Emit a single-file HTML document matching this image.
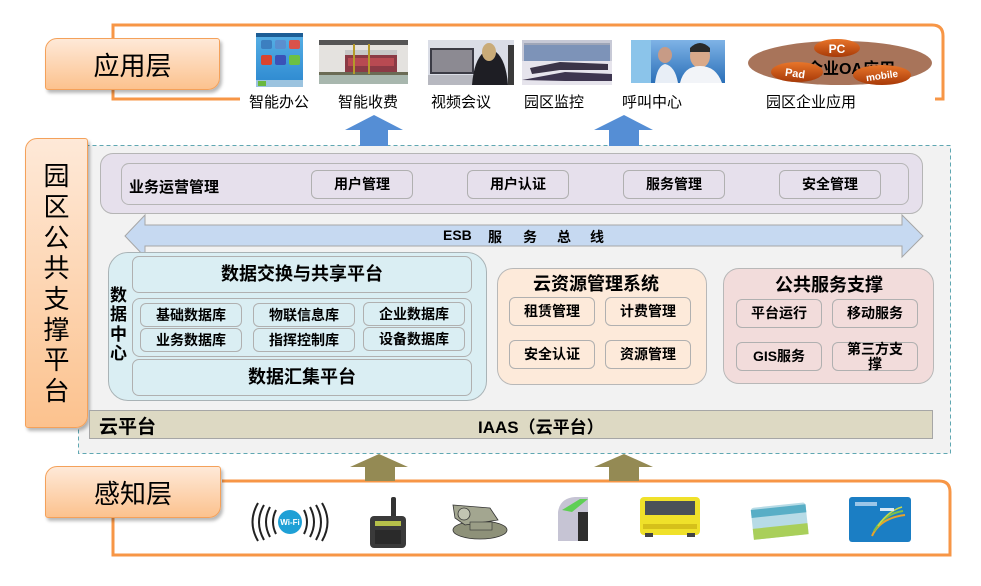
<!DOCTYPE html>
<html><head><meta charset="utf-8">
<style>
body{margin:0;width:981px;height:586px;background:#fff;position:relative;overflow:hidden;font-family:"Liberation Sans","Noto Sans CJK SC",sans-serif;color:#000;}
.a{position:absolute;box-sizing:border-box;}
.lbl{background:linear-gradient(#fee9d8,#fcc28e);border:1.5px solid #f4a15a;border-radius:12px 3px 12px 3px;box-shadow:2px 3px 3px rgba(0,0,0,.28);display:flex;align-items:center;justify-content:center;}
.btn{border:1px solid #b0b0b0;border-radius:6px;display:flex;align-items:center;justify-content:center;font-weight:bold;font-size:14px;line-height:15px;text-align:center;}
.t{position:absolute;white-space:nowrap;}
svg{position:absolute;left:0;top:0;}
</style></head><body>

<svg width="981" height="586" viewBox="0 0 981 586">
  <!-- main dashed box -->
  <rect x="78.5" y="145.5" width="872" height="308" fill="#f2f2f2" stroke="#5fa7b2" stroke-width="1" stroke-dasharray="4,3"/>
  <!-- app bracket -->
  <path d="M240,99 H113 V25 H932 Q943,25 943,36 V99 H935" fill="none" stroke="#f79646" stroke-width="3"/>
  <!-- perception bracket -->
  <path d="M222,481 H939 Q950,481 950,492 V555 H113 V518" fill="none" stroke="#f79646" stroke-width="3"/>
  <!-- blue arrows -->
  <polygon points="374,115 403,130 388,130 388,146 360,146 360,130 345,130" fill="#558ed5"/>
  <polygon points="624,115 653,130 639,130 639,146 609,146 609,130 594,130" fill="#558ed5"/>
  <!-- olive arrows -->
  <polygon points="379,454 408,467 395,467 395,481 365,481 365,467 350,467" fill="#948a54"/>
  <polygon points="624,454 653,467 639,467 639,481 609,481 609,467 594,467" fill="#948a54"/>
  <!-- ESB arrow -->
  <polygon points="125,236 145,215 145,225 902,225 902,215 923,236 902,257 902,246 145,246 145,257" fill="#c6d9f1" stroke="#a6a6a6" stroke-width="1"/>

  <!-- app images -->
  <!-- phone -->
  <defs>
    <linearGradient id="ph" x1="0" y1="0" x2="0" y2="1"><stop offset="0" stop-color="#58b1e6"/><stop offset="1" stop-color="#2b87cf"/></linearGradient>
    <linearGradient id="cc" x1="0" y1="0" x2="0" y2="1"><stop offset="0" stop-color="#7fb3e6"/><stop offset="1" stop-color="#2a6fb8"/></linearGradient>
    <linearGradient id="org" x1="0" y1="0" x2="0" y2="1"><stop offset="0" stop-color="#e8752a"/><stop offset="1" stop-color="#a83a08"/></linearGradient>
  </defs>
  <rect x="256" y="33" width="47" height="54" fill="url(#ph)"/>
  <rect x="256" y="33" width="47" height="4" fill="#1d5d95"/>
  <rect x="261" y="40" width="11" height="9" rx="2" fill="#3c7fc0"/>
  <rect x="275" y="40" width="11" height="9" rx="2" fill="#5a8fd0"/>
  <rect x="289" y="40" width="11" height="9" rx="2" fill="#d9524a"/>
  <rect x="261" y="55" width="11" height="10" rx="2" fill="#d9442f"/>
  <rect x="275" y="55" width="11" height="10" rx="2" fill="#3a52b8"/>
  <rect x="289" y="55" width="11" height="10" rx="2" fill="#6cc043"/>
  <rect x="256" y="80" width="47" height="7" fill="#9bc3df"/>
  <rect x="258" y="81" width="8" height="5" fill="#6ab83e"/>
  <!-- toll -->
  <rect x="319" y="40" width="89" height="44" fill="#e4e2df"/>
  <rect x="319" y="40" width="89" height="5" fill="#555"/>
  <rect x="345" y="50" width="52" height="22" fill="#8b3a45"/>
  <rect x="345" y="50" width="52" height="5" fill="#c8c8c8"/>
  <rect x="348" y="58" width="46" height="8" fill="#b84a52"/>
  <rect x="319" y="72" width="89" height="12" fill="#a8b7ae"/>
  <rect x="319" y="72" width="89" height="3" fill="#6b6b55"/>
  <rect x="353" y="44" width="2" height="30" fill="#b59a2a"/>
  <rect x="368" y="44" width="2" height="30" fill="#b59a2a"/>
  <!-- video conf -->
  <rect x="428" y="40" width="86" height="45" fill="#dadde6"/>
  <rect x="430" y="48" width="44" height="26" fill="#3b3b45"/>
  <rect x="432" y="50" width="40" height="22" fill="#8c8a92"/>
  <rect x="428" y="75" width="60" height="10" fill="#b7b8c0"/>
  <path d="M472,85 Q474,60 484,52 Q490,44 496,52 Q506,60 508,85 Z" fill="#1e1e24"/>
  <ellipse cx="489" cy="52" rx="7" ry="9" fill="#c9ab78"/>
  <rect x="508" y="45" width="6" height="40" fill="#3a3a3a"/>
  <!-- monitor -->
  <rect x="522" y="40" width="90" height="45" fill="#c7c9d6"/>
  <rect x="524" y="43" width="86" height="18" fill="#7d93b8"/>
  <rect x="524" y="43" width="86" height="2" fill="#9fa6b8"/>
  <rect x="522" y="61" width="90" height="24" fill="#e6e4ec"/>
  <path d="M530,68 L560,62 L608,64 L608,70 L560,70 L532,74Z" fill="#3b3448"/>
  <path d="M522,80 L565,72 L612,74 L612,81 L565,81 Z" fill="#3e3650"/>
  <!-- call center -->
  <rect x="631" y="40" width="94" height="43" fill="url(#cc)"/>
  <rect x="631" y="40" width="20" height="43" fill="#8bc4ea"/>
  <ellipse cx="700" cy="56" rx="10" ry="12" fill="#d9a98a"/>
  <path d="M690,48 Q700,38 710,48 L710,52 L690,52Z" fill="#2a2a2a"/>
  <path d="M680,83 Q684,66 700,66 Q716,66 722,83Z" fill="#f2f4f8"/>
  <ellipse cx="665" cy="55" rx="7" ry="8" fill="#c79b86"/>
  <path d="M655,83 Q657,66 665,64 Q675,66 678,83Z" fill="#e8eef6"/>
  <!-- OA ellipse -->
  <ellipse cx="840" cy="63" rx="92" ry="22" fill="#a8745a"/>
  <ellipse cx="837" cy="48" rx="23" ry="9" fill="url(#org)"/>
  <text x="837" y="53" font-family="Liberation Sans" font-size="12" font-weight="bold" fill="#fff" text-anchor="middle">PC</text>
  <text x="851" y="74" font-family="Liberation Sans, Noto Sans CJK SC, sans-serif" font-size="16" font-weight="bold" fill="#000" text-anchor="middle">企业OA应用</text>
  <ellipse cx="797" cy="72" rx="26" ry="10" fill="url(#org)"/>
  <text x="795" y="77" font-family="Liberation Sans" font-size="11" font-weight="bold" fill="#fff" text-anchor="middle" transform="rotate(8 795 74)">Pad</text>
  <ellipse cx="882" cy="75" rx="29" ry="10" fill="url(#org)"/>
  <text x="882" y="79" font-family="Liberation Sans" font-size="10" font-weight="bold" fill="#fff" text-anchor="middle" transform="rotate(-8 882 76)">mobile</text>

  <!-- bottom icons -->
  <!-- wifi -->
  <g fill="none" stroke="#222" stroke-width="2">
    <path d="M276,510 Q270,522 276,534"/><path d="M270,507 Q262,522 270,537"/><path d="M264,505 Q254,522 264,540"/><path d="M258,503 Q247,522 258,541"/>
    <path d="M304,510 Q310,522 304,534"/><path d="M310,507 Q318,522 310,537"/><path d="M316,505 Q326,522 316,540"/><path d="M322,503 Q333,522 322,541"/>
  </g>
  <circle cx="290" cy="522" r="12" fill="#1ea0d6"/>
  <text x="290" y="525" font-family="Liberation Sans" font-size="8" font-weight="bold" fill="#fff" text-anchor="middle">Wi-Fi</text>
  <!-- radio -->
  <rect x="391" y="497" width="5" height="22" rx="2" fill="#333"/>
  <rect x="370" y="516" width="36" height="32" rx="4" fill="#3a3a3a"/>
  <rect x="375" y="521" width="26" height="5" fill="#b6c04a"/>
  <rect x="375" y="530" width="26" height="14" fill="#2a2a2a"/>
  <!-- camera -->
  <ellipse cx="480" cy="530" rx="27" ry="9" fill="#8e9179" stroke="#333" stroke-width="0.8"/>
  <path d="M453,505 L490,508 L498,520 L465,525 L455,518 Z" fill="#a3a690" stroke="#333" stroke-width="0.8"/>
  <circle cx="464" cy="514" r="6" fill="#c2c4b2" stroke="#333" stroke-width="0.8"/>
  <rect x="470" y="522" width="22" height="8" fill="#9a9d86" stroke="#333" stroke-width="0.6"/>
  <!-- kiosk -->
  <path d="M558,541 L558,512 Q560,498 575,497 L588,497 L588,541 Z" fill="#c6c4d4"/>
  <path d="M562,510 L580,499 L588,499 L572,512 Z" fill="#5fcf55"/>
  <rect x="578" y="512" width="10" height="29" fill="#2e2e2e"/>
  <!-- bus -->
  <rect x="640" y="497" width="60" height="38" rx="4" fill="#f0e12a"/>
  <rect x="645" y="501" width="50" height="14" fill="#4a5058"/>
  <rect x="643" y="524" width="54" height="5" fill="#d6c01a"/>
  <rect x="645" y="533" width="8" height="4" fill="#444"/>
  <rect x="687" y="533" width="8" height="4" fill="#444"/>
  <!-- card -->
  <g transform="rotate(-6 780 520)">
    <rect x="752" y="505" width="55" height="32" rx="3" fill="#b7dbe6"/>
    <rect x="752" y="507" width="55" height="8" fill="#58aec6"/>
    <rect x="752" y="526" width="55" height="11" fill="#a9cf5a"/>
  </g>
  <!-- blue card -->
  <rect x="849" y="497" width="62" height="45" rx="3" fill="#1b7ec4"/>
  <path d="M872,536 Q880,518 905,515" fill="none" stroke="#e8a32b" stroke-width="2"/>
  <path d="M874,531 Q884,514 903,511" fill="none" stroke="#7cc14a" stroke-width="2"/>
  <path d="M878,526 Q888,511 902,507" fill="none" stroke="#c8d94a" stroke-width="1.5"/>
  <rect x="855" y="502" width="22" height="4" fill="#9cc6e8"/>
  <rect x="880" y="508" width="14" height="3" fill="#d8e8f4"/>
</svg>

<!-- app labels -->
<div class="t" style="left:249px;top:91px;font-size:15px;">智能办公</div>
<div class="t" style="left:338px;top:91px;font-size:15px;">智能收费</div>
<div class="t" style="left:431px;top:91px;font-size:15px;">视频会议</div>
<div class="t" style="left:524px;top:91px;font-size:15px;">园区监控</div>
<div class="t" style="left:622px;top:91px;font-size:15px;">呼叫中心</div>
<div class="t" style="left:766px;top:91px;font-size:15px;">园区企业应用</div>

<!-- layer labels -->
<div class="a lbl" style="left:45px;top:38px;width:175px;height:52px;font-size:26px;">应用层</div>
<div class="a lbl" style="left:45px;top:466px;width:176px;height:52px;font-size:26px;">感知层</div>
<div class="a lbl" style="left:25px;top:138px;width:63px;height:290px;font-size:26px;line-height:30.7px;flex-direction:column;text-align:center;padding-top:2px;">园<br>区<br>公<br>共<br>支<br>撑<br>平<br>台</div>

<!-- business ops -->
<div class="a" style="left:100px;top:153px;width:823px;height:61px;background:#e6e0ec;border:1px solid #b5b5b5;border-radius:13px;"></div>
<div class="a" style="left:121px;top:163px;width:788px;height:42px;border:1px solid #b5b5b5;border-radius:8px;"></div>
<div class="t" style="left:129px;top:176px;font-size:15px;font-weight:bold;">业务运营管理</div>
<div class="a btn" style="left:311px;top:170px;width:102px;height:29px;">用户管理</div>
<div class="a btn" style="left:467px;top:170px;width:102px;height:29px;">用户认证</div>
<div class="a btn" style="left:623px;top:170px;width:102px;height:29px;">服务管理</div>
<div class="a btn" style="left:779px;top:170px;width:102px;height:29px;">安全管理</div>

<!-- ESB text -->
<div class="t" style="left:443px;top:227px;font-size:14px;font-weight:bold;">ESB</div>
<div class="t" style="left:488px;top:227px;font-size:14px;font-weight:bold;">服</div>
<div class="t" style="left:523px;top:227px;font-size:14px;font-weight:bold;">务</div>
<div class="t" style="left:557px;top:227px;font-size:14px;font-weight:bold;">总</div>
<div class="t" style="left:590px;top:227px;font-size:14px;font-weight:bold;">线</div>

<!-- data center -->
<div class="a" style="left:108px;top:252px;width:379px;height:149px;background:#daeef3;border:1px solid #a9b3b6;border-radius:20px;"></div>
<div class="t" style="left:110px;top:286px;font-size:17px;font-weight:bold;line-height:19.3px;white-space:normal;width:20px;">数<br>据<br>中<br>心</div>
<div class="a btn" style="left:132px;top:256px;width:340px;height:37px;font-size:18px;border-radius:7px;">数据交换与共享平台</div>
<div class="a" style="left:132px;top:298px;width:340px;height:59px;border:1px solid #b0b0b0;border-radius:8px;"></div>
<div class="a btn" style="left:140px;top:303px;width:102px;height:24px;">基础数据库</div>
<div class="a btn" style="left:253px;top:303px;width:102px;height:24px;">物联信息库</div>
<div class="a btn" style="left:363px;top:302px;width:102px;height:24px;">企业数据库</div>
<div class="a btn" style="left:140px;top:328px;width:102px;height:24px;">业务数据库</div>
<div class="a btn" style="left:253px;top:328px;width:102px;height:24px;">指挥控制库</div>
<div class="a btn" style="left:363px;top:327px;width:102px;height:24px;">设备数据库</div>
<div class="a btn" style="left:132px;top:359px;width:340px;height:37px;font-size:18px;border-radius:7px;">数据汇集平台</div>

<!-- cloud resource mgmt -->
<div class="a" style="left:497px;top:268px;width:210px;height:117px;background:#fdeada;border:1px solid #b8b8b8;border-radius:16px;"></div>
<div class="t" style="left:533px;top:270px;font-size:18px;font-weight:bold;">云资源管理系统</div>
<div class="a btn" style="left:509px;top:297px;width:86px;height:29px;">租赁管理</div>
<div class="a btn" style="left:605px;top:297px;width:86px;height:29px;">计费管理</div>
<div class="a btn" style="left:509px;top:340px;width:86px;height:29px;">安全认证</div>
<div class="a btn" style="left:605px;top:340px;width:86px;height:29px;">资源管理</div>

<!-- public service -->
<div class="a" style="left:723px;top:268px;width:211px;height:116px;background:#f2dcdb;border:1px solid #b8b8b8;border-radius:16px;"></div>
<div class="t" style="left:775px;top:271px;font-size:18px;font-weight:bold;">公共服务支撑</div>
<div class="a btn" style="left:736px;top:299px;width:86px;height:29px;">平台运行</div>
<div class="a btn" style="left:832px;top:299px;width:86px;height:29px;">移动服务</div>
<div class="a btn" style="left:736px;top:342px;width:86px;height:29px;">GIS服务</div>
<div class="a btn" style="left:832px;top:342px;width:86px;height:29px;padding:0 10px;">第三方支撑</div>

<!-- cloud platform bar -->
<div class="a" style="left:89px;top:410px;width:844px;height:29px;background:#ddd9c3;border:1px solid #a6a6a6;"></div>
<div class="t" style="left:99px;top:412px;font-size:19px;font-weight:bold;">云平台</div>
<div class="t" style="left:478px;top:413px;font-size:17px;font-weight:bold;">IAAS（云平台）</div>

</body></html>
